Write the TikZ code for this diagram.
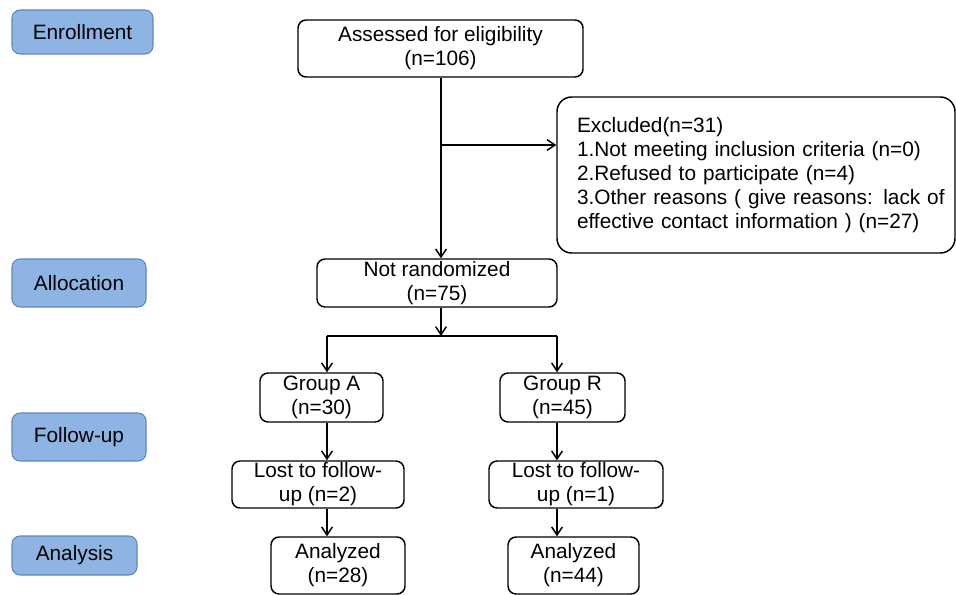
\documentclass[tikz,border=0pt]{standalone}
\usepackage{fontspec}
\setmainfont{Liberation Sans}
\usetikzlibrary{arrows.meta}
\definecolor{lblfill}{RGB}{141,180,226}
\definecolor{lbldraw}{RGB}{95,135,190}
\newcommand{\indentxl}{\hspace*{15pt}}
\begin{document}
\begin{tikzpicture}[x=0.75pt,y=-0.75pt,
  lbl/.style={draw=lbldraw, fill=lblfill, rounded corners=6pt, line width=0.8pt,
    inner sep=0pt, font=\fontsize{15.6}{18}\selectfont},
  box/.style={draw=black, rounded corners=6pt, line width=1.1pt, inner sep=0pt,
    align=center, font=\fontsize{15.6}{18}\selectfont},
  arr/.style={line width=1.1pt, -{Straight Barb[length=6pt,width=8pt]}},
  ln/.style={line width=1.1pt}]
\useasboundingbox (0,0) rectangle (956,595);

% stage labels
\node[lbl, minimum width=105.75pt, minimum height=33pt] (enr) at (82.5,32) {Enrollment};
\node[lbl, minimum width=100.5pt, minimum height=36pt] (alloc) at (79,283) {Allocation};
\node[lbl, minimum width=100.5pt, minimum height=36pt] (fu) at (79,437) {Follow-up};
\node[lbl, minimum width=93.75pt, minimum height=29.25pt] (anl) at (74.5,555.5) {Analysis};

% flow boxes
\node[box, minimum width=213.75pt, minimum height=42.75pt] (assess) at (440.5,48.5) {Assessed for eligibility\\(n=106)};
\node[box, rounded corners=11pt, align=left, text width=298.5pt, inner xsep=0pt,
  minimum height=117pt] (excl) at (756,175)
  {\indentxl Excluded(n=31)\\\indentxl 1.Not meeting inclusion criteria (n=0)\\\indentxl 2.Refused to participate (n=4)\\\indentxl 3.Other reasons ( give reasons: lack of\\\indentxl effective contact information ) (n=27)};
\node[box, minimum width=180pt, minimum height=36pt] (notrand) at (437,283) {Not randomized\\(n=75)};
\node[box, minimum width=92.25pt, minimum height=36.75pt] (grpA) at (321.5,397.5) {Group A\\(n=30)};
\node[box, minimum width=93.75pt, minimum height=36.75pt] (grpR) at (562.5,397.5) {Group R\\(n=45)};
\node[box, minimum width=129pt, minimum height=35.25pt] (lostA) at (318,484.5) {Lost to follow-\\up (n=2)};
\node[box, minimum width=130.5pt, minimum height=35.25pt] (lostR) at (576,484.5) {Lost to follow-\\up (n=1)};
\node[box, minimum width=100.5pt, minimum height=42.75pt] (anaA) at (338,565.5) {Analyzed\\(n=28)};
\node[box, minimum width=98.25pt, minimum height=42.75pt] (anaR) at (573.5,565.5) {Analyzed\\(n=44)};

% helper coordinates
\coordinate (br) at (441,145);
\coordinate (split) at (441,336);
\coordinate (xa) at (327,0);
\coordinate (xr) at (557,0);

% connectors
\draw[arr] (assess.south -| br) -- (br |- notrand.north);
\draw[arr] (br) -- (br -| excl.west);
\draw[arr] (notrand.south -| split) -- (split);
\draw[ln] (xa |- split) -- (xr |- split);
\draw[arr] (xa |- split) -- (xa |- grpA.north);
\draw[arr] (xr |- split) -- (xr |- grpR.north);
\draw[arr] (xa |- grpA.south) -- (xa |- lostA.north);
\draw[arr] (xr |- grpR.south) -- (xr |- lostR.north);
\draw[arr] (xa |- lostA.south) -- (xa |- anaA.north);
\draw[arr] (xr |- lostR.south) -- (xr |- anaR.north);
\end{tikzpicture}
\end{document}
